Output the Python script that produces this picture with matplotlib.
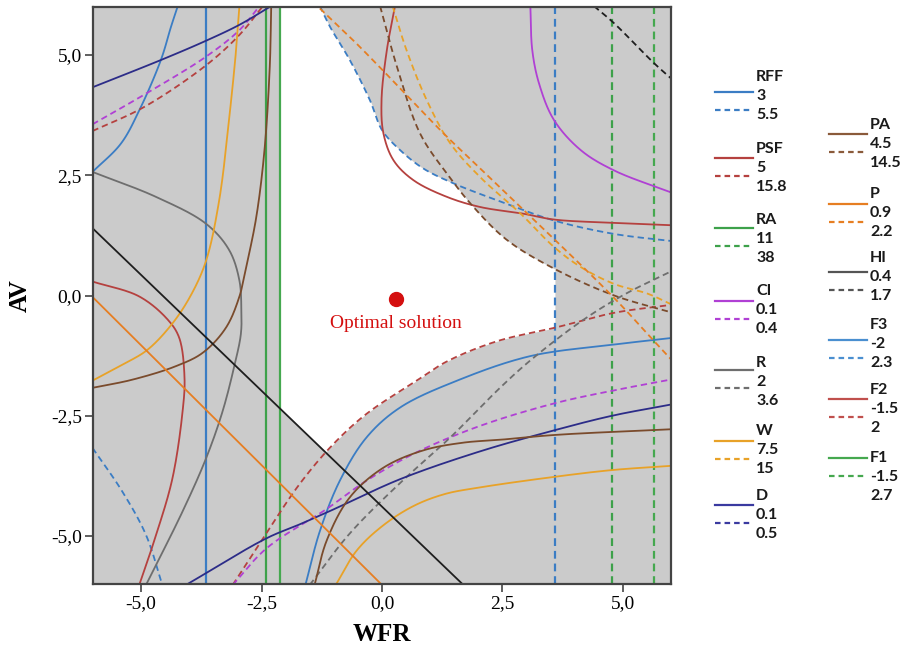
import numpy as np
import matplotlib.pyplot as plt

# --- contour lines (x = WFR, y = AV) ---
# vertical contours
rff_lo_x = -3.66      # RFF = 3
rff_hi_x = 3.59       # RFF = 5.5
ra_lo_x = -2.40       # RA = 11
f1_lo_x = -2.11       # F1 = -1.5
ra_hi_x = 4.78        # RA = 38
f1_hi_x = 5.65        # F1 = 2.7

# F3 (blue)
f3_lo_a_x = [-6.01, -5.42, -5.04, -4.59, -4.38, -4.24]
f3_lo_a_y = [2.57, 3.16, 3.85, 4.90, 5.59, 6.02]
f3_lo_b_x = [-1.59, -1.29, -0.875, -0.32, 0.375, 1.56, 3.08, 4.82, 6.04]
f3_lo_b_y = [-6.02, -4.90, -3.85, -2.95, -2.33, -1.77, -1.26, -1.02, -0.88]
f3_hi_a_x = [-1.29, -1.08, -0.67, -0.25, 0.0, 0.38, 0.86, 1.49, 2.39, 3.57, 4.82, 6.04]
f3_hi_a_y = [6.02, 5.59, 4.90, 4.06, 3.44, 3.02, 2.64, 2.33, 1.98, 1.56, 1.28, 1.13]
f3_hi_b_x = [-6.01, -5.39, -4.90, -4.56]
f3_hi_b_y = [-3.17, -4.08, -4.98, -6.02]

# PSF / F2 (red)
psf_lo_x = [0.27, 0.10, -0.01, 0.03, 0.24, 0.65, 1.35, 2.04, 2.94, 3.57, 4.82, 6.04]
psf_lo_y = [6.02, 5.10, 4.06, 3.37, 2.81, 2.40, 2.05, 1.84, 1.70, 1.58, 1.51, 1.46]
psf_hi_x = [-3.10, -2.47, -1.71, -1.01, -0.32, 0.72, 1.35, 2.39, 3.59, 4.82, 6.04]
psf_hi_y = [-6.02, -5.05, -3.92, -3.09, -2.46, -1.77, -1.37, -0.95, -0.67, -0.36, -0.19]
f2_lo_x = [-6.01, -5.04, -4.45, -4.21, -4.10, -4.14, -4.35, -4.69, -5.04]
f2_lo_y = [0.29, -0.02, -0.50, -0.88, -1.71, -2.41, -3.80, -4.98, -6.02]
f2_hi_x = [-6.01, -4.94, -3.65, -2.96, -2.47]
f2_hi_y = [3.42, 3.92, 4.79, 5.42, 6.02]

# CI (purple)
ci_lo_x = [3.08, 3.12, 3.26, 3.57, 4.13, 4.82, 6.04]
ci_lo_y = [6.02, 5.10, 4.41, 3.65, 3.02, 2.60, 2.13]
ci_hi_a_x = [-6.01, -4.83, -3.65, -2.96, -2.54]
ci_hi_a_y = [3.56, 4.24, 4.97, 5.52, 6.02]
ci_hi_b_x = [-3.10, -2.40, -1.15, -0.32, 0.72, 2.04, 3.59, 4.78, 6.04]
ci_hi_b_y = [-6.02, -5.26, -4.44, -3.85, -3.26, -2.71, -2.24, -1.98, -1.74]

# R (gray)
r_lo_x = [-6.01, -4.69, -3.65, -3.17, -2.96, -2.92, -2.93, -3.06, -3.31, -3.65, -4.14, -4.90]
r_lo_y = [2.57, 2.05, 1.49, 0.94, 0.31, -0.30, -0.80, -1.44, -2.41, -3.38, -4.49, -6.02]
r_hi_x = [-1.50, -0.67, 0.375, 1.42, 2.46, 3.08, 4.13, 5.03, 6.04]
r_hi_y = [-6.02, -4.95, -3.90, -2.95, -1.91, -1.35, -0.54, 0.02, 0.52]

# W (gold)
w_lo_a_x = [-2.96, -3.03, -3.17, -3.38, -3.65, -3.96, -4.35, -4.87, -5.39, -6.01]
w_lo_a_y = [6.02, 5.10, 3.71, 1.98, 0.73, 0.02, -0.58, -1.13, -1.44, -1.77]
w_lo_b_x = [-0.96, -0.53, 0.0, 0.65, 1.30, 2.04, 3.59, 4.78, 6.04]
w_lo_b_y = [-6.02, -5.31, -4.80, -4.38, -4.13, -3.99, -3.77, -3.63, -3.54]
w_hi_x = [0.22, 0.51, 0.93, 1.42, 2.04, 2.88, 3.57, 4.13, 4.82, 5.51, 6.04]
w_hi_y = [6.02, 5.10, 4.06, 3.16, 2.46, 1.70, 1.01, 0.59, 0.24, 0.04, -0.20]

# D (navy)
d_lo_a_x = [-6.01, -4.56, -3.65, -2.96, -2.30]
d_lo_a_y = [4.33, 4.91, 5.30, 5.63, 6.02]
d_lo_b_x = [-4.07, -2.40, -1.71, -1.01, 0.375, 2.04, 3.59, 4.78, 6.04]
d_lo_b_y = [-6.02, -5.05, -4.76, -4.45, -3.82, -3.24, -2.80, -2.50, -2.26]

# PA (brown)
pa_lo_a_x = [-2.30, -2.33, -2.44, -2.61, -2.82, -2.96, -3.24, -3.72, -4.28, -5.18, -6.01]
pa_lo_a_y = [6.02, 4.76, 3.02, 1.63, 0.59, -0.02, -0.67, -1.19, -1.47, -1.75, -1.92]
pa_lo_b_x = [-1.40, -1.15, -0.67, 0.03, 0.86, 1.69, 2.46, 3.59, 6.04]
pa_lo_b_y = [-6.02, -5.10, -4.20, -3.58, -3.22, -3.06, -3.00, -2.90, -2.78]
pa_hi_x = [-0.04, 0.31, 0.79, 1.35, 1.90, 2.60, 3.57, 4.82, 6.04]
pa_hi_y = [6.02, 4.76, 3.37, 2.53, 1.84, 1.15, 0.56, 0.0, -0.36]

# P (orange)
p_lo_x = [-6.01, 0.0]
p_lo_y = [-0.03, -6.02]
p_hi_x = [-1.29, -0.60, 0.0, 1.28, 2.04, 4.75, 5.65, 6.04]
p_hi_y = [5.97, 5.31, 4.70, 3.37, 2.64, 0.02, -0.95, -1.37]

# HI (black)
hi_lo_x = [-6.01, 1.69]
hi_lo_y = [1.40, -6.02]
hi_hi_x = [4.40, 4.82, 5.65, 6.04]
hi_hi_y = [6.02, 5.66, 4.83, 4.48]

opt_x, opt_y = 0.29, -0.08

# legend entries: name, low level, high level
leg_col1 = [("RFF", "3", "5.5"), ("PSF", "5", "15.8"), ("RA", "11", "38"),
            ("CI", "0.1", "0.4"), ("R", "2", "3.6"), ("W", "7.5", "15"),
            ("D", "0.1", "0.5")]
leg_col2 = [("PA", "4.5", "14.5"), ("P", "0.9", "2.2"), ("HI", "0.4", "1.7"),
            ("F3", "-2", "2.3"), ("F2", "-1.5", "2"), ("F1", "-1.5", "2.7")]

col = {
    "RFF": "#3b7dc4", "PSF": "#b5413f", "RA": "#3da14a", "CI": "#b040d4",
    "R": "#6e6e6e", "W": "#e8a228", "D": "#3a3aa0", "PA": "#8a5a3a",
    "P": "#e67e22", "HI": "#555555", "F3": "#4a8fd0", "F2": "#c0504d",
    "F1": "#45a84f",
}


def smooth(x, y, n=24):
    # centripetal Catmull-Rom through the read points
    pts = np.column_stack([x, y]).astype(float)
    if len(pts) < 3:
        return pts[:, 0], pts[:, 1]
    P = np.vstack([2 * pts[0] - pts[1], pts, 2 * pts[-1] - pts[-2]])
    out = []
    for i in range(1, len(P) - 2):
        p0, p1, p2, p3 = P[i - 1], P[i], P[i + 1], P[i + 2]
        t0 = 0.0
        t1 = t0 + np.linalg.norm(p1 - p0) ** 0.5
        t2 = t1 + np.linalg.norm(p2 - p1) ** 0.5
        t3 = t2 + np.linalg.norm(p3 - p2) ** 0.5
        t = np.linspace(t1, t2, n, endpoint=False)[:, None]
        a1 = (t1 - t) / (t1 - t0) * p0 + (t - t0) / (t1 - t0) * p1
        a2 = (t2 - t) / (t2 - t1) * p1 + (t - t1) / (t2 - t1) * p2
        a3 = (t3 - t) / (t3 - t2) * p2 + (t - t2) / (t3 - t2) * p3
        b1 = (t2 - t) / (t2 - t0) * a1 + (t - t0) / (t2 - t0) * a2
        b2 = (t3 - t) / (t3 - t1) * a2 + (t - t1) / (t3 - t1) * a3
        out.append((t2 - t) / (t2 - t1) * b1 + (t - t1) / (t2 - t1) * b2)
    out.append(pts[-1:])
    c = np.vstack(out)
    return c[:, 0], c[:, 1]


def boundary(x, y, xs, fill):
    sx, sy = smooth(x, y)
    order = np.argsort(sx)
    return np.interp(xs, sx[order], sy[order], left=fill, right=fill)


plt.rcParams['font.family'] = ['Liberation Serif', 'DejaVu Serif']

fig = plt.figure(figsize=(9.01, 6.54), dpi=100)
ax = fig.add_axes([93 / 901, 1 - 584 / 654, 578 / 901, 577 / 654])
ax.set_facecolor("#cbcbcb")

# white feasible region bounded by the constraint contours
xs = np.linspace(f1_lo_x, rff_hi_x, 1500)
lower = np.maximum(np.interp(xs, hi_lo_x, hi_lo_y),
                   boundary(psf_hi_x, psf_hi_y, xs, -np.inf))
upper = np.minimum.reduce([np.full_like(xs, 6.0),
                           boundary(f3_hi_a_x, f3_hi_a_y, xs, np.inf),
                           boundary(pa_hi_x, pa_hi_y, xs, np.inf)])
ax.fill_between(xs, lower, upper, where=upper > lower, color="white", lw=0, zorder=1)

lw = 1.3
dash = (3.5, 2.2)


def solid(x, y, c):
    sx, sy = smooth(x, y)
    ax.plot(sx, sy, color=c, lw=lw, zorder=2)


def dashed(x, y, c):
    sx, sy = smooth(x, y)
    ax.plot(sx, sy, color=c, lw=lw, dashes=dash, zorder=2)


for xv, c in [(rff_lo_x, col["RFF"]), (ra_lo_x, col["RA"]), (f1_lo_x, col["F1"])]:
    ax.axvline(xv, color=c, lw=lw + 0.3, zorder=2)
for xv, c in [(rff_hi_x, col["RFF"]), (ra_hi_x, col["RA"]), (f1_hi_x, col["F1"])]:
    ax.axvline(xv, color=c, lw=lw + 0.3, dashes=dash, zorder=2)

solid(f3_lo_a_x, f3_lo_a_y, col["RFF"])
solid(f3_lo_b_x, f3_lo_b_y, col["RFF"])
dashed(f3_hi_a_x, f3_hi_a_y, col["RFF"])
dashed(f3_hi_b_x, f3_hi_b_y, col["RFF"])

solid(psf_lo_x, psf_lo_y, col["PSF"])
dashed(psf_hi_x, psf_hi_y, col["PSF"])
solid(f2_lo_x, f2_lo_y, col["PSF"])
dashed(f2_hi_x, f2_hi_y, col["PSF"])

solid(ci_lo_x, ci_lo_y, col["CI"])
dashed(ci_hi_a_x, ci_hi_a_y, col["CI"])
dashed(ci_hi_b_x, ci_hi_b_y, col["CI"])

solid(r_lo_x, r_lo_y, col["R"])
dashed(r_hi_x, r_hi_y, col["R"])

solid(w_lo_a_x, w_lo_a_y, col["W"])
solid(w_lo_b_x, w_lo_b_y, col["W"])
dashed(w_hi_x, w_hi_y, col["W"])

solid(d_lo_a_x, d_lo_a_y, "#2c2c88")
solid(d_lo_b_x, d_lo_b_y, "#2c2c88")

solid(pa_lo_a_x, pa_lo_a_y, "#7a4b2c")
solid(pa_lo_b_x, pa_lo_b_y, "#7a4b2c")
dashed(pa_hi_x, pa_hi_y, "#7a4b2c")

solid(p_lo_x, p_lo_y, col["P"])
dashed(p_hi_x, p_hi_y, col["P"])

solid(hi_lo_x, hi_lo_y, "#1e1e1e")
dashed(hi_hi_x, hi_hi_y, "#1e1e1e")

ax.plot(opt_x, opt_y, "o", color="#d40f0f", ms=10, zorder=5)
ax.text(opt_x, opt_y - 0.5, "Optimal solution", color="#d40f0f", fontsize=14,
        ha="center", va="center", zorder=5)

ax.set_xlim(-6, 6)
ax.set_ylim(-6, 6)
ticks = [-5, -2.5, 0, 2.5, 5]
labels = [f"{t:.1f}".replace(".", ",") for t in ticks]
ax.set_xticks(ticks)
ax.set_xticklabels(labels)
ax.set_yticks(ticks)
ax.set_yticklabels(labels)
ax.tick_params(direction="out", length=6, width=1.2, color="#444444",
               labelsize=14, pad=2)
for sp in ax.spines.values():
    sp.set_color("#444444")
    sp.set_linewidth(1.6)
ax.set_xlabel("WFR", fontsize=18, fontweight="bold", labelpad=8)
ax.set_ylabel("AV", fontsize=18, fontweight="bold", labelpad=14)

# legend drawn in pixel coordinates of the figure
lax = fig.add_axes([0, 0, 1, 1], zorder=-1)
lax.set_xlim(0, 901)
lax.set_ylim(654, 0)
lax.axis("off")
lfont = dict(family=["Lato", "DejaVu Sans"], fontweight="bold", fontsize=11.5,
             va="center", ha="left", color="#1a1a1a")

# (title y, solid line y) for each entry
col1_pos = [(77, 92), (149, 158), (220, 228), (291, 301), (363, 370), (431, 441), (496, 505)]
col2_pos = [(125, 134), (194, 204), (258, 272), (325, 340), (390, 399), (458, 458)]

for entries, pos, x0 in [(leg_col1, col1_pos, 715), (leg_col2, col2_pos, 829)]:
    for (name, lo, hi), (ty, ly) in zip(entries, pos):
        c = col[name]
        lax.plot([x0, x0 + 38], [ly, ly], color=c, lw=1.6)
        lax.plot([x0, x0 + 38], [ly + 18, ly + 18], color=c, lw=1.6, dashes=(2.5, 1.8))
        lax.text(x0 + 41, ty, name, **lfont)
        lax.text(x0 + 41, ty + 19, lo, **lfont)
        lax.text(x0 + 41, ty + 38, hi, **lfont)

fig.savefig("out.png", dpi=100)
